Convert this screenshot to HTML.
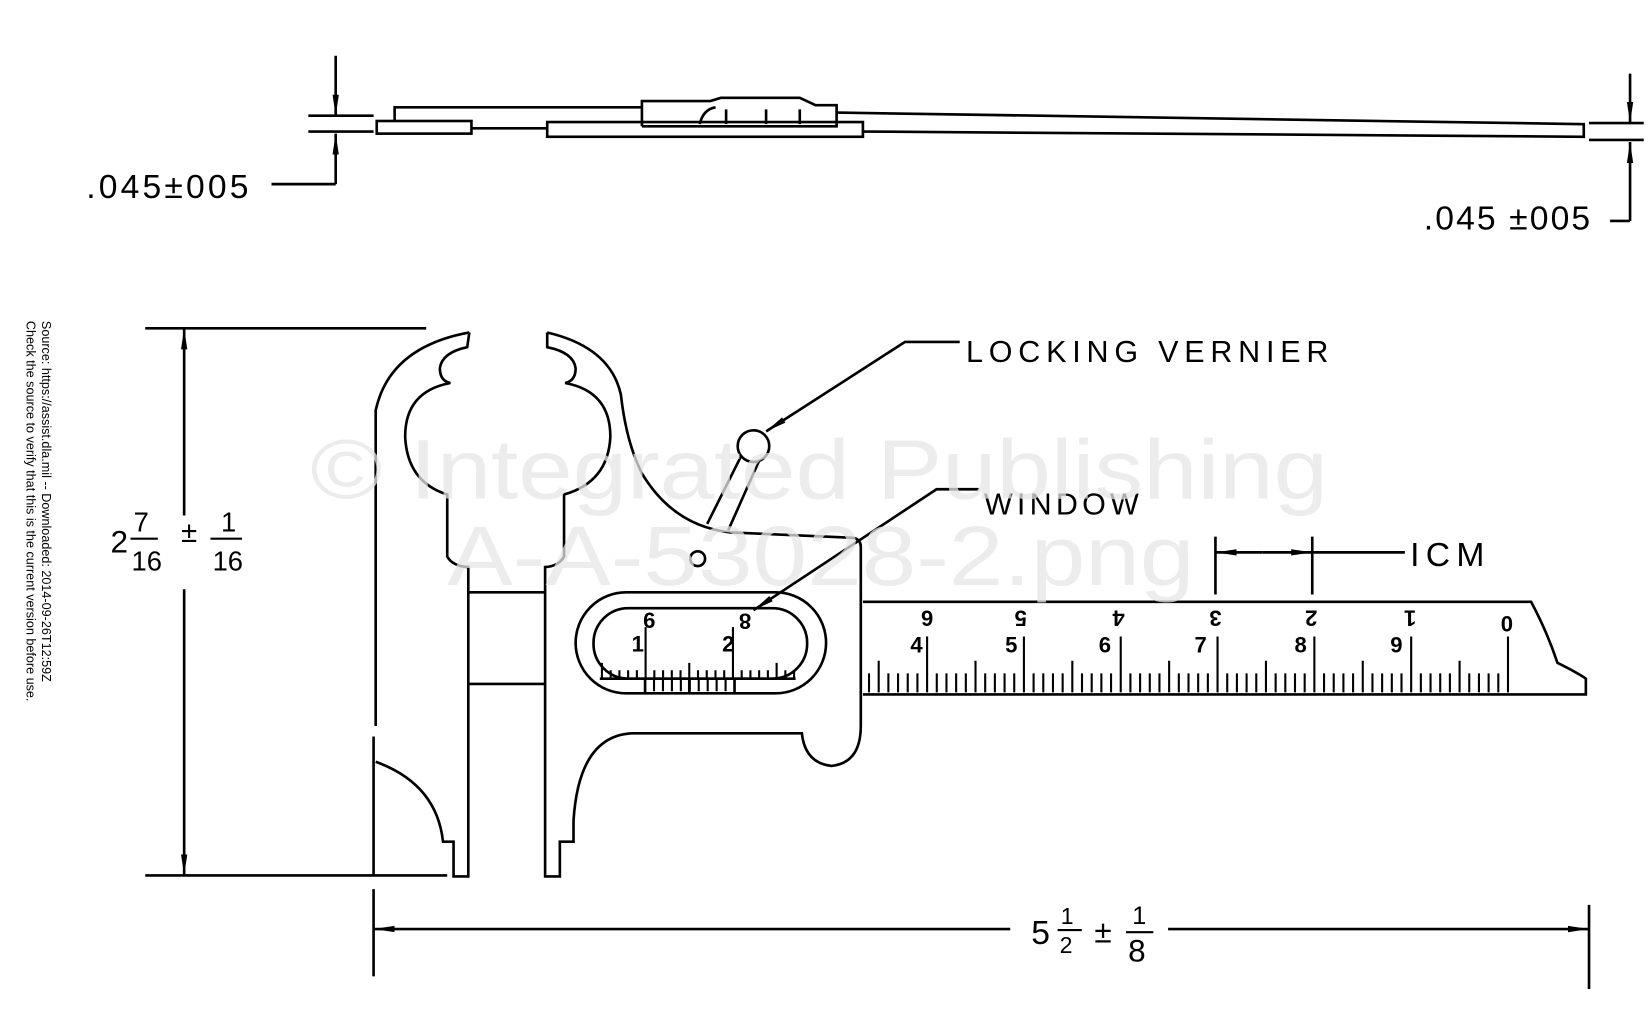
<!DOCTYPE html>
<html><head><meta charset="utf-8"><style>
html,body{margin:0;padding:0;background:#fff;width:1649px;height:1029px;overflow:hidden}
svg{display:block}
text{font-family:"Liberation Sans",sans-serif}
</style></head><body>
<svg width="1649" height="1029" viewBox="0 0 1567 978" preserveAspectRatio="none" xmlns="http://www.w3.org/2000/svg">
<defs>
<marker id="ar" viewBox="0 0 20 8" refX="20" refY="4" markerWidth="20" markerHeight="8" markerUnits="userSpaceOnUse" orient="auto"><path d="M0,1 L20,4 L0,7 Z" fill="#000"/></marker>
</defs>
<g fill="none" stroke="#000" stroke-width="2.5">
<path d="M293 110 H355 M293 125 H355"/>
<path d="M319 53 V110" marker-end="url(#ar)"/>
<path d="M319 175 V127" marker-end="url(#ar)"/>
<path d="M258 175 H319"/>
<rect x="358" y="115" width="90" height="12"/>
<path d="M375 115 V102 H610"/>
<path d="M448 122 H520"/>
<rect x="520" y="116" width="300" height="14"/>
<path d="M610 120 V96 H675 L685 93 H760 L775 100 H795 V120 H610"/>
<path d="M665 118 Q668 104 680 102 M690 104 V118 M728 104 V118 M760 104 V118"/>
<path d="M795 107 L1505 118 V130 L820 125"/>
<path d="M1510 117 H1562 M1510 133 H1562"/>
<path d="M1549 70 V117" marker-end="url(#ar)"/>
<path d="M1549 210 V135" marker-end="url(#ar)"/>
<path d="M1530 210 H1549"/>
<path d="M138 312 H405 M138 832 H425"/>
<path d="M175 490 V312" marker-end="url(#ar)"/>
<path d="M175 560 V832" marker-end="url(#ar)"/>
<path d="M446 316 Q370 330 357 390 V690"/>
<path d="M446 316 L444 330 Q420 335 418 350 Q418 362 428 364 Q385 372 385 415 Q387 458 425 470 V529 Q430 538 445 539 V833 H431 V800 H421 Q415 745 357 724"/>
<path d="M355 700 V833"/>
<path d="M520 316 L520 330 Q545 335 547 350 Q547 362 537 364 Q580 372 580 415 Q578 458 536 470 V529 Q531 538 518 539 V833 H532 V800 H545 V780 Q550 700 600 697 H762 Q765 725 790 728 Q818 725 818 690 V520 Q818 511 808 511 L694 506 Q640 500 610 450 Q595 420 590 375 Q580 330 520 316"/>
<path d="M445 563 H518 M445 650 H518"/>
<path d="M672 498 L706 430 M692 504 L724 432"/>
<circle cx="716" cy="424" r="15" fill="#fff"/>
<circle cx="663" cy="531" r="7"/>
<rect x="547" y="563" width="238" height="96" rx="48"/>
<rect x="564" y="578" width="203" height="67" rx="33"/>
<path d="M570 645 H756 M613 660 V645 M698 660 V645 M655 660 V645"/>
<path d="M820 572 H1455 Q1470 600 1480 630 Q1500 640 1507 645 V660 H820"/>
<path d="M912 325 H860 L728 410" marker-end="url(#ar)"/>
<path d="M930 465 H890 L716 580" marker-end="url(#ar)"/>
<path d="M1155 510 V565 M1247 510 V565"/>
<path d="M1200 525 H1155" marker-end="url(#ar)"/>
<path d="M1200 525 H1247" marker-end="url(#ar)"/>
<path d="M1247 525 H1335"/>
<path d="M355 845 V928 M1510 860 V940"/>
<path d="M960 883 H355" marker-end="url(#ar)"/>
<path d="M1110 883 H1510" marker-end="url(#ar)"/>
</g>
<g stroke="#000" stroke-width="2">
<path id="rt" d=""/>
</g>
<script>
(function(){
var d="";
for(var i=0;i<=66;i++){var x=1433-i*9.2;if(x<823)break;var top=(i%10==0)?605:(i%5==0?628:640);d+="M"+x.toFixed(1)+" 658 V"+top+" ";}
var v="";
for(var j=0;j<=22;j++){var x=572+j*8.3;if(x>756)break;var t=(j%5==0)?630:637;if(j==5||j==15)t=596;v+="M"+x.toFixed(1)+" 645 V"+t+" ";}
for(var k=0;k<=10;k++){var x=613+k*8.5;v+="M"+x.toFixed(1)+" 645 V657 ";}
document.getElementById("rt").setAttribute("d",d+v);
})();
</script>
<g fill="#000" font-size="21" font-weight="bold">
<text x="881" y="594" transform="rotate(180 881 587)" text-anchor="middle">6</text>
<text x="970" y="594" transform="rotate(180 970 587)" text-anchor="middle">5</text>
<text x="1063" y="594" transform="rotate(180 1063 587)" text-anchor="middle">4</text>
<text x="1155" y="594" transform="rotate(180 1155 587)" text-anchor="middle">3</text>
<text x="1246" y="594" transform="rotate(180 1246 587)" text-anchor="middle">2</text>
<text x="1340" y="594" transform="rotate(180 1340 587)" text-anchor="middle">1</text>
<text x="1432" y="600" text-anchor="middle">0</text>
<text x="871" y="620" text-anchor="middle">4</text>
<text x="961" y="620" text-anchor="middle">5</text>
<text x="1050" y="620" text-anchor="middle">6</text>
<text x="1141" y="620" text-anchor="middle">7</text>
<text x="1236" y="620" text-anchor="middle">8</text>
<text x="1327" y="620" text-anchor="middle">9</text>
<text x="617" y="597" text-anchor="middle">6</text>
<text x="708" y="597" transform="rotate(180 708 590)" text-anchor="middle">8</text>
<text x="606" y="619" text-anchor="middle">1</text>
<text x="692" y="619" text-anchor="middle">2</text>
</g>
<g fill="#000">
<text x="82" y="188" font-size="32" letter-spacing="3">.045±005</text>
<text x="1353" y="218" font-size="32" letter-spacing="2">.045 ±005</text>
<text x="918" y="344" font-size="29" letter-spacing="5.5">LOCKING VERNIER</text>
<text x="935" y="489" font-size="29" letter-spacing="4">WINDOW</text>
<text x="1340" y="538" font-size="32" letter-spacing="6">ICM</text>
<text x="105" y="525" font-size="30">2</text>
<text x="127" y="505" font-size="26">7</text>
<path d="M124 512 H150" stroke="#000" stroke-width="2"/>
<text x="125" y="542" font-size="26">16</text>
<text x="172" y="515" font-size="28">±</text>
<text x="210" y="505" font-size="26">1</text>
<path d="M200 512 H230" stroke="#000" stroke-width="2"/>
<text x="202" y="542" font-size="26">16</text>
<text x="980" y="897" font-size="32">5</text>
<text x="1008" y="878" font-size="22">1</text>
<path d="M1005 884 H1028" stroke="#000" stroke-width="2"/>
<text x="1007" y="906" font-size="22">2</text>
<text x="1040" y="896" font-size="30">±</text>
<text x="1076" y="878" font-size="24">1</text>
<path d="M1070 886 H1096" stroke="#000" stroke-width="2"/>
<text x="1072" y="914" font-size="30">8</text>
</g>
<g fill="#000" font-size="12">
<text x="0" y="0" transform="translate(40 305) rotate(90)">Source: https://assist.dla.mil -- Downloaded: 2014-09-26T12:59Z</text>
<text x="0" y="0" transform="translate(25 305) rotate(90)">Check the source to verify that this is the current version before use.</text>
</g>
<g fill="#e6e6e6" opacity="0.75" font-size="80">
<text x="295" y="474" textLength="967" lengthAdjust="spacingAndGlyphs">© Integrated Publishing</text>
<text x="425" y="556" textLength="710" lengthAdjust="spacingAndGlyphs">A-A-53028-2.png</text>
</g>
</svg>
</body></html>
